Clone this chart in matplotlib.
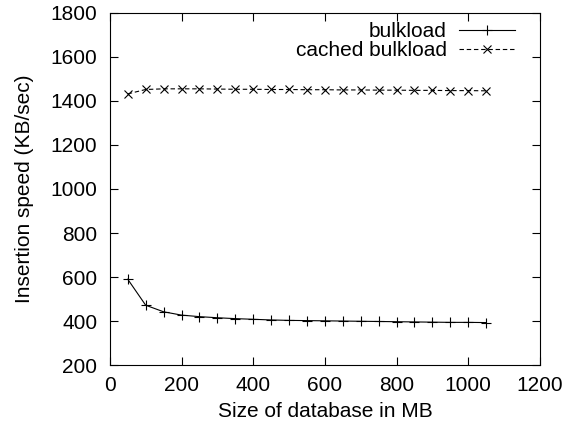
import matplotlib
matplotlib.use("Agg")
import matplotlib.pyplot as plt

plt.rcParams['font.family'] = ['Liberation Sans', 'DejaVu Sans']

# database size (MB)
sizes = [50, 100, 150, 200, 250, 300, 350, 400, 450, 500, 550,
         600, 650, 700, 750, 800, 850, 900, 950, 1000, 1050]
# insertion speed (KB/sec)
bulkload = [590, 472, 442, 427, 420, 415, 411, 408, 405, 403, 402,
            401, 400, 399, 398, 397, 396, 395, 394, 394, 393]
cached_bulkload = [1432, 1452, 1455, 1455, 1455, 1454, 1453, 1453, 1452, 1452, 1451,
                   1451, 1450, 1450, 1449, 1449, 1448, 1448, 1447, 1447, 1446]

fs = 15

fig = plt.figure(figsize=(5.75, 4.3), dpi=100)
ax = fig.add_axes([0.191, 0.151, 0.748, 0.819])

ax.plot(sizes, bulkload, color='black', linewidth=0.8, marker='+',
        markersize=7, markeredgewidth=0.8, label='bulkload')
ax.plot(sizes, cached_bulkload, color='black', linewidth=0.8, linestyle=(0, (4, 2.5)),
        marker='x', markersize=6, markeredgewidth=0.8, label='cached bulkload')

ax.set_xlim(0, 1200)
ax.set_ylim(200, 1800)
ax.set_xticks(range(0, 1201, 200))
ax.set_yticks(range(200, 1801, 200))
ax.tick_params(direction='in', length=6, width=0.8, top=True, right=True,
               labelsize=fs)
ax.tick_params(axis='x', pad=8)
ax.tick_params(axis='y', pad=9)
for s in ax.spines.values():
    s.set_linewidth(0.8)

ax.set_xlabel('Size of database in MB', fontsize=fs, labelpad=5)
ax.set_ylabel('Insertion speed (KB/sec)', fontsize=fs, labelpad=12)

ax.legend(loc='upper right', bbox_to_anchor=(0.965, 1.0), frameon=False,
          markerfirst=False, fontsize=fs, handlelength=2.7, borderaxespad=0.3,
          borderpad=0.15, labelspacing=0.0, handletextpad=0.6)

fig.savefig('out.png', dpi=100)
